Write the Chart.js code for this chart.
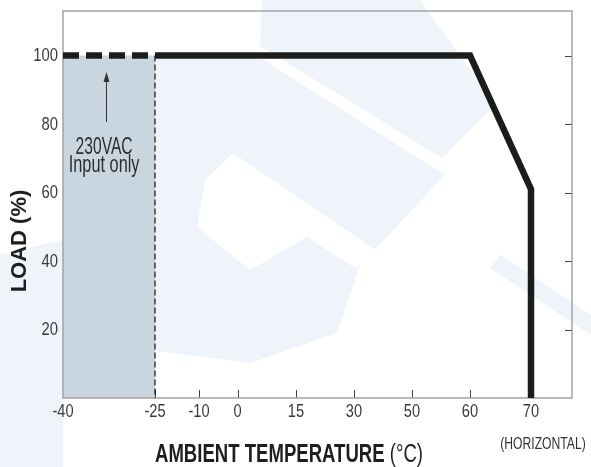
<!DOCTYPE html>
<html>
<head>
<meta charset="utf-8">
<script src="https://cdn.jsdelivr.net/npm/chart.js@4.4.1/dist/chart.umd.min.js"></script>
<style>
  html, body { margin: 0; padding: 0; background: #fff; }
  canvas { display: block; }
</style>
</head>
<body>
<canvas id="chart" width="591" height="467"></canvas>
<script>
// derating curve
const xTickValues = [-40, -25, -10, 0, 15, 30, 50, 60, 70];
const yTickValues = [20, 40, 60, 80, 100];
const curveTemp = [-25, 60, 70, 70];
const curveLoad = [100, 100, 61, 0];
const lowTemp = [-40, -25];   // 230VAC only region
const lowLoad = [100, 100];

// the temperature axis is not evenly spaced in the original drawing
const axisStops = [-40, -25, -10, 0, 15, 30, 50, 60, 70, 80];
const axisFrac = [0, 92, 136, 174.5, 233, 291, 349, 407, 468, 509].map(p => p / 509);

const FONT = "'Liberation Sans', Arial, sans-serif";

function tempToFrac(v) {
    if (v <= axisStops[0]) return 0;
    for (let i = 1; i < axisStops.length; i++) {
        if (v <= axisStops[i]) {
            const t = (v - axisStops[i - 1]) / (axisStops[i] - axisStops[i - 1]);
            return axisFrac[i - 1] + t * (axisFrac[i] - axisFrac[i - 1]);
        }
    }
    return 1;
}

function fracToTemp(f) {
    for (let i = 1; i < axisFrac.length; i++) {
        if (f <= axisFrac[i]) {
            const t = (f - axisFrac[i - 1]) / (axisFrac[i] - axisFrac[i - 1]);
            return axisStops[i - 1] + t * (axisStops[i] - axisStops[i - 1]);
        }
    }
    return axisStops[axisStops.length - 1];
}

class PiecewiseScale extends Chart.LinearScale {
    static id = 'piecewise';
    static defaults = Chart.LinearScale.defaults;
    getPixelForValue(value) {
        return this.getPixelForDecimal(tempToFrac(value));
    }
    getValueForPixel(pixel) {
        return fracToTemp(this.getDecimalForPixel(pixel));
    }
}
Chart.register(PiecewiseScale);

const toPoints = (xs, ys) => xs.map((x, i) => ({x: x, y: ys[i]}));

// the source uses a condensed face, so squeeze the text horizontally
function squeezeText(ctx, str, x, y, font, sx, align) {
    ctx.save();
    ctx.translate(x, y);
    ctx.scale(sx, 1);
    ctx.font = font;
    ctx.textAlign = align || 'left';
    ctx.fillText(str, 0, 0);
    ctx.restore();
}

function poly(ctx, pts) {
    ctx.beginPath();
    pts.forEach((p, i) => i ? ctx.lineTo(p[0], p[1]) : ctx.moveTo(p[0], p[1]));
    ctx.closePath();
    ctx.fill();
}

const framePlugin = {
    id: 'frame',
    beforeDraw(chart) {
        const ctx = chart.ctx;
        ctx.save();
        ctx.fillStyle = '#fff';
        ctx.fillRect(0, 0, chart.width, chart.height);
        // rough copy of the faint logo watermark
        ctx.fillStyle = '#eef4fa';
        poly(ctx, [[262, 0], [420, 0], [495, 105], [442, 158], [260, 46]]);
        poly(ctx, [[150, 59], [262, 59], [445, 175], [360, 265], [337, 333], [250, 363], [150, 350]]);
        poly(ctx, [[0, 255], [63, 240], [63, 467], [0, 467]]);
        poly(ctx, [[500, 255], [591, 315], [591, 335], [490, 268]]);
        ctx.fillStyle = '#fff';
        poly(ctx, [[233, 153], [380, 253], [355, 268], [307, 237], [250, 270], [197, 227], [205, 180]]);
        ctx.restore();
    },
    beforeDatasetsDraw(chart) {
        const {ctx, chartArea: a, scales: {x, y}} = chart;
        ctx.save();
        ctx.strokeStyle = '#444';
        ctx.lineWidth = 1;
        ctx.beginPath();
        yTickValues.forEach(v => {
            const py = Math.round(y.getPixelForValue(v)) + 0.5;
            ctx.moveTo(a.left, py); ctx.lineTo(a.left + 7, py);
            ctx.moveTo(a.right, py); ctx.lineTo(a.right - 7, py);
        });
        xTickValues.forEach(v => {
            const px = Math.round(x.getPixelForValue(v)) + 0.5;
            ctx.moveTo(px, a.bottom); ctx.lineTo(px, a.bottom - 8);
        });
        ctx.stroke();
        ctx.restore();
    },
    afterDatasetDraw(chart, args) {
        if (chart.data.datasets[args.index].label !== 'shade') return;
        const {ctx, chartArea: a} = chart;
        ctx.save();
        ctx.strokeStyle = '#a3a3a3';
        ctx.lineWidth = 1.5;
        ctx.strokeRect(a.left, a.top, a.right - a.left, a.bottom - a.top);
        ctx.restore();
    },
    afterDraw(chart) {
        const {ctx, scales: {x, y}} = chart;
        ctx.save();

        // tick labels, placed by the scales
        ctx.fillStyle = '#3a3a3a';
        ctx.textBaseline = 'middle';
        x.ticks.forEach(t => {
            squeezeText(ctx, String(t.value), x.getPixelForValue(t.value), 412, '19px ' + FONT, 0.77, 'center');
        });
        y.ticks.forEach(t => {
            squeezeText(ctx, String(t.value), 58, y.getPixelForValue(t.value) + 0.5, '19px ' + FONT, 0.78, 'right');
        });

        // note + arrow inside the shaded band
        ctx.textBaseline = 'alphabetic';
        const ax = Math.round(x.getPixelForValue(-33)) + 0.5;
        const tip = y.getPixelForValue(95.2);
        const tail = y.getPixelForValue(80.6);
        ctx.strokeStyle = '#333';
        ctx.lineWidth = 1;
        ctx.beginPath();
        ctx.moveTo(ax, tip + 8); ctx.lineTo(ax, tail);
        ctx.stroke();
        ctx.fillStyle = '#333';
        ctx.beginPath();
        ctx.moveTo(ax, tip); ctx.lineTo(ax - 3, tip + 10); ctx.lineTo(ax + 3, tip + 10);
        ctx.closePath();
        ctx.fill();

        ctx.fillStyle = '#2e2e2e';
        const nx = x.getPixelForValue(-33.3);
        squeezeText(ctx, '230VAC', nx, y.getPixelForValue(71.2), '23px ' + FONT, 0.68, 'center');
        squeezeText(ctx, 'Input only', nx, y.getPixelForValue(66), '23px ' + FONT, 0.71, 'center');

        // axis titles
        ctx.fillStyle = '#1e1e1e';
        const boldFont = 'bold 25px ' + FONT;
        const regFont = '25px ' + FONT;
        ctx.font = boldFont;
        const w1 = ctx.measureText('AMBIENT TEMPERATURE ').width;
        ctx.font = regFont;
        const w2 = ctx.measureText('(°C)').width;
        const sx = 268 / (w1 + w2);
        squeezeText(ctx, 'AMBIENT TEMPERATURE ', 155, 462, boldFont, sx, 'left');
        squeezeText(ctx, '(°C)', 155 + w1 * sx, 462, regFont, sx, 'left');

        ctx.save();
        ctx.translate(20, 241);
        ctx.rotate(-Math.PI / 2);
        ctx.font = 'bold 22px ' + FONT;
        ctx.textAlign = 'center';
        ctx.textBaseline = 'middle';
        ctx.fillText('LOAD (%)', 0, 0);
        ctx.restore();

        ctx.fillStyle = '#333';
        ctx.textBaseline = 'middle';
        squeezeText(ctx, '(HORIZONTAL)', 543, 445, '16px ' + FONT, 0.76, 'center');
        ctx.restore();
    }
};

const ctx = document.getElementById('chart').getContext('2d');
new Chart(ctx, {
    type: 'line',
    data: {
        datasets: [
            {
                label: 'curve',
                data: toPoints(curveTemp, curveLoad),
                borderColor: '#1c1c1c',
                borderWidth: 6.5,
                borderJoinStyle: 'miter',
                borderCapStyle: 'butt',
                pointRadius: 0,
                fill: false,
                order: 1
            },
            {
                label: 'low',
                data: toPoints(lowTemp, lowLoad),
                borderColor: '#1c1c1c',
                borderWidth: 6.5,
                borderDash: [16, 7],
                borderCapStyle: 'butt',
                pointRadius: 0,
                fill: false,
                order: 2
            },
            {
                label: 'edge',
                data: [{x: lowTemp[1], y: lowLoad[1]}, {x: lowTemp[1], y: 0}],
                borderColor: '#111',
                borderWidth: 1.2,
                borderDash: [6, 3],
                pointRadius: 0,
                fill: false,
                order: 3
            },
            {
                label: 'shade',
                data: toPoints(lowTemp, lowLoad),
                borderWidth: 0,
                borderColor: 'rgba(0,0,0,0)',
                backgroundColor: '#c9d6e0',
                pointRadius: 0,
                fill: 'origin',
                order: 4
            }
        ]
    },
    options: {
        responsive: false,
        devicePixelRatio: 1,
        animation: false,
        events: [],
        layout: { padding: { left: 0, top: 11, right: 19, bottom: 0 } },
        plugins: {
            legend: { display: false },
            tooltip: { enabled: false }
        },
        scales: {
            x: {
                type: 'piecewise',
                min: -40,
                max: 80,
                grid: { display: false, drawTicks: false },
                border: { display: false },
                afterBuildTicks: axis => { axis.ticks = xTickValues.map(v => ({value: v})); },
                afterFit: axis => { axis.height = 69; },
                ticks: { display: false, autoSkip: false }
            },
            y: {
                type: 'linear',
                min: 0,
                max: 113,
                grid: { display: false, drawTicks: false },
                border: { display: false },
                afterBuildTicks: axis => { axis.ticks = yTickValues.map(v => ({value: v})); },
                afterFit: axis => { axis.width = 63; },
                ticks: { display: false }
            }
        }
    },
    plugins: [framePlugin]
});
</script>
</body>
</html>
